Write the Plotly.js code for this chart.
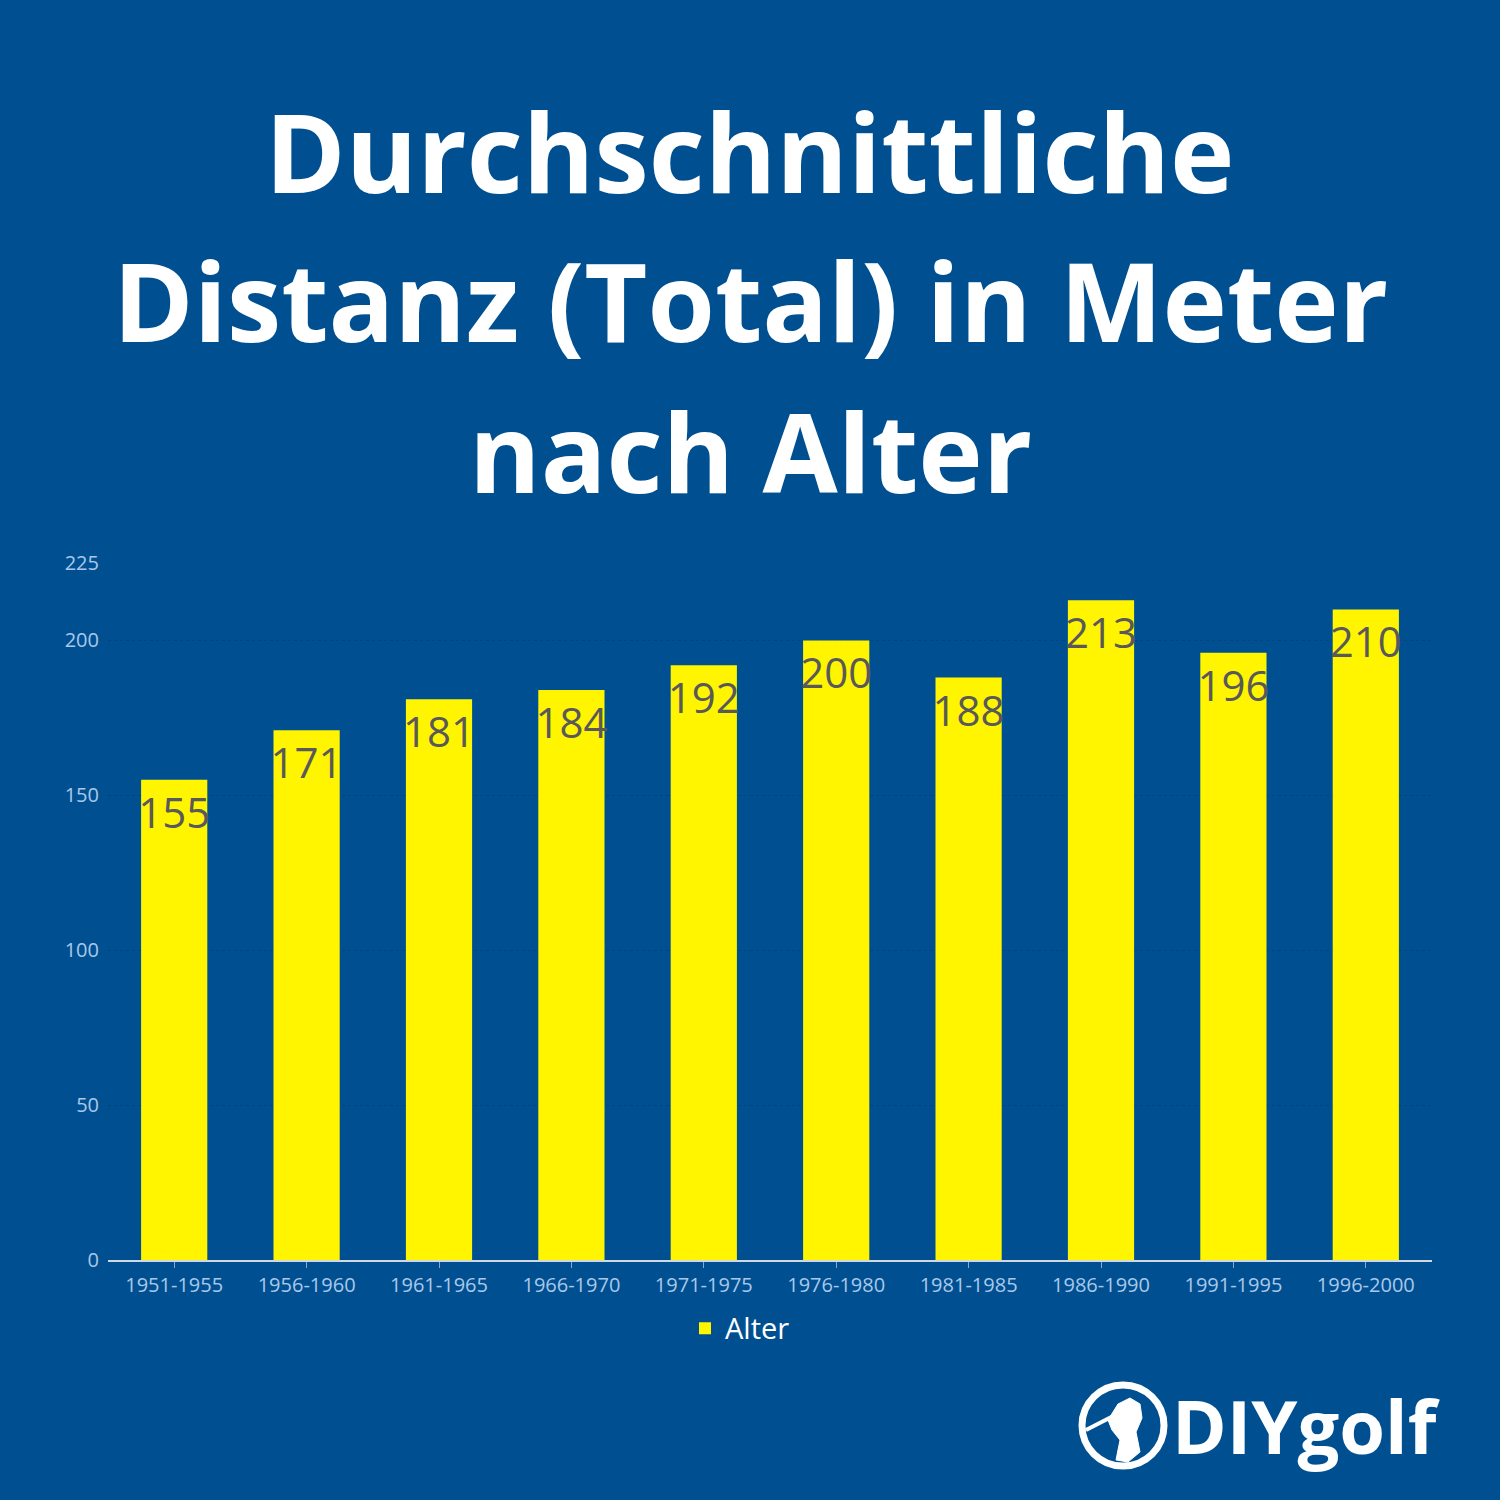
<!DOCTYPE html>
<html>
<head>
<meta charset="utf-8">
<script src="https://cdn.plot.ly/plotly-3.0.1.min.js"></script>
<style>html,body{margin:0;padding:0;background:#005091;}#chart{width:1500px;height:1500px;}</style>
</head>
<body>
<div id="chart"></div>
<script>
var categories = ["1951-1955","1956-1960","1961-1965","1966-1970","1971-1975","1976-1980","1981-1985","1986-1990","1991-1995","1996-2000"];
var values = [155,171,181,184,192,200,188,213,196,210];
var yTicks = [0,50,100,150,200,225];
var seriesName = "Alter";
var titleLines = ["Durchschnittliche","Distanz (Total) in Meter","nach Alter"];
var logoText = "DIYgolf";

var bg = "#005091";
function px(x){return (x-108)/1324;}
function py(y){return (1260-y)/697;}

var trace = {
  type: "bar",
  x: categories,
  y: values,
  name: seriesName,
  marker: {color: "#FFF500"},
  text: values.map(String),
  textposition: "inside",
  insidetextanchor: "end",
  textangle: 0,
  constraintext: "none",
  cliponaxis: false,
  textfont: {family: "Open Sans, sans-serif", size: 42, color: "#595959"},
  hoverinfo: "none"
};

var titleMid = [150, 300, 450];
var annotations = titleLines.map(function(t, i){
  return {
    xref: "paper", yref: "paper",
    x: px(750), xanchor: "center",
    y: py(titleMid[i]), yanchor: "middle",
    text: "<b>" + t + "</b>",
    showarrow: false,
    font: {family: "Open Sans, sans-serif", size: 109, color: "#FFFFFF"}
  };
});
annotations.push({
  xref: "paper", yref: "paper",
  x: px(1442), xanchor: "right",
  y: py(1425), yanchor: "middle",
  text: "<b>" + logoText + "</b>",
  showarrow: false,
  font: {family: "Open Sans, sans-serif", size: 74, color: "#FFFFFF"}
});

var layout = {
  width: 1500, height: 1500,
  paper_bgcolor: bg, plot_bgcolor: bg,
  margin: {l: 108, r: 68, t: 563, b: 240, pad: 0},
  bargap: 0.5,
  showlegend: true,
  xaxis: {
    type: "category",
    showline: true, linecolor: "#D0D8E4", linewidth: 1.5,
    ticks: "outside", ticklen: 6, tickcolor: "#8FA8C8", tickwidth: 1,
    tickfont: {family: "Open Sans, sans-serif", size: 20, color: "#A9C8EA"},
    showgrid: false, zeroline: false, fixedrange: true
  },
  yaxis: {
    range: [0, 225],
    tickvals: yTicks,
    ticktext: yTicks.map(String),
    tickfont: {family: "Open Sans, sans-serif", size: 20, color: "#A9C8EA"},
    showline: false, zeroline: false,
    showgrid: true, gridcolor: "rgba(0,30,70,0.25)", griddash: "dot", gridwidth: 1,
    ticks: "", ticklabelstandoff: 8
  },
  legend: {
    orientation: "h", x: 0.5 - 30/1324, xanchor: "center", y: -0.098, yanchor: "middle",
    font: {family: "Open Sans, sans-serif", size: 29, color: "#FFFFFF"},
    itemwidth: 30, bgcolor: "rgba(0,0,0,0)"
  },
  annotations: annotations,
  shapes: [{
    type: "circle", xref: "paper", yref: "paper",
    x0: px(1082), x1: px(1164),
    y0: py(1466), y1: py(1385),
    line: {color: "#FFFFFF", width: 7}, fillcolor: "rgba(0,0,0,0)"
  },{
    type: "path", xref: "paper", yref: "paper",
    path: (function(){
      var pts = [[1108,1420],[1118,1404],[1130,1398],[1140,1404],[1142,1418],[1136,1432],[1140,1452],[1128,1462],[1116,1460],[1120,1440],[1112,1430]];
      return "M " + pts.map(function(p){return px(p[0]) + "," + py(p[1]);}).join(" L ") + " Z";
    })(),
    line: {color: "#FFFFFF", width: 1}, fillcolor: "#FFFFFF"
  },{
    type: "line", xref: "paper", yref: "paper",
    x0: px(1086), x1: px(1125),
    y0: py(1430), y1: py(1410),
    line: {color: "#FFFFFF", width: 4}
  }]
};

Plotly.newPlot("chart", [trace], layout, {displayModeBar: false, staticPlot: true});
</script>
</body>
</html>
